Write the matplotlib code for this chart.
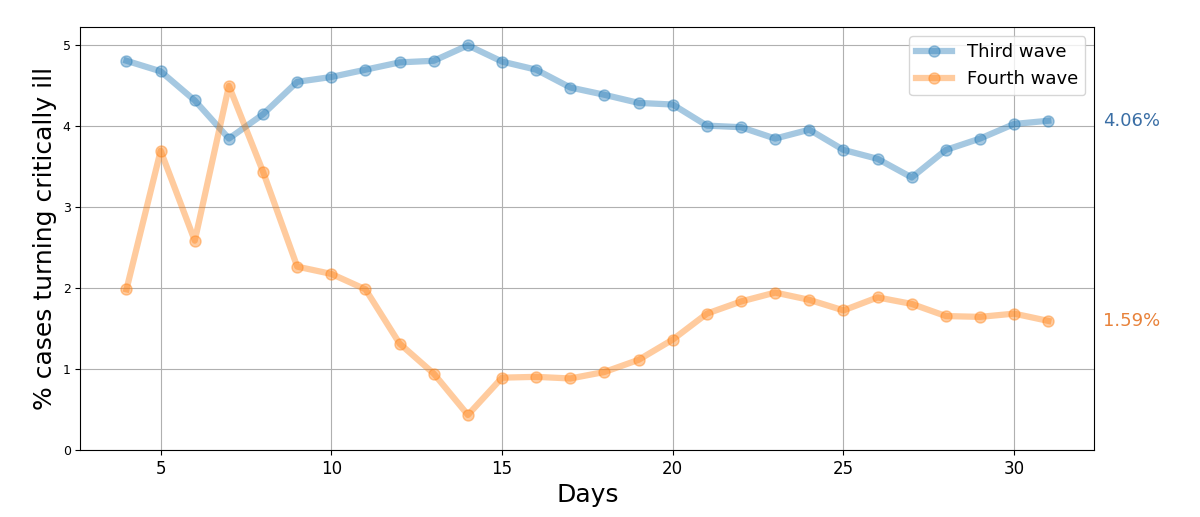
"""Share of cases turning critically ill, third vs fourth wave."""

import matplotlib

matplotlib.use("Agg")

import matplotlib.pyplot as plt

days = list(range(4, 32))
third_wave = [4.80, 4.67, 4.31, 3.84, 4.14, 4.54, 4.60, 4.69, 4.78, 4.80,
              4.99, 4.79, 4.69, 4.47, 4.38, 4.28, 4.26, 4.00, 3.98, 3.84,
              3.95, 3.70, 3.59, 3.36, 3.70, 3.84, 4.02, 4.06]
fourth_wave = [1.98, 3.69, 2.58, 4.49, 3.43, 2.26, 2.17, 1.98, 1.31, 0.94,
               0.43, 0.89, 0.90, 0.88, 0.96, 1.11, 1.36, 1.68, 1.83, 1.94,
               1.85, 1.72, 1.88, 1.80, 1.65, 1.64, 1.68, 1.59]


def main() -> None:
    fig, ax = plt.subplots(figsize=(12, 5.17), dpi=100)
    ax.plot(days, third_wave, "-o", color="tab:blue", lw=4.5, ms=8,
            alpha=0.4, label="Third wave")
    ax.plot(days, fourth_wave, "-o", color="tab:orange", lw=4.5, ms=8,
            alpha=0.4, label="Fourth wave")

    ax.text(days[-1] + 1.6, third_wave[-1], f"{third_wave[-1]:.2f}%",
            color="#3a6ea5", fontsize=13, va="center")
    ax.text(days[-1] + 1.6, fourth_wave[-1], f"{fourth_wave[-1]:.2f}%",
            color="#e8823a", fontsize=13, va="center")

    ax.set_ylim(bottom=0)
    ax.set_xlabel("Days", fontsize=18)
    ax.set_ylabel("% cases turning critically ill", fontsize=18)
    ax.tick_params(axis="x", labelsize=12)
    ax.tick_params(axis="y", labelsize=9)
    ax.grid(True)
    ax.legend(fontsize=13, loc="upper right")
    fig.subplots_adjust(left=0.067, right=0.912, top=0.948, bottom=0.13)
    fig.savefig("out.png")
    plt.close(fig)


if __name__ == "__main__":
    main()
